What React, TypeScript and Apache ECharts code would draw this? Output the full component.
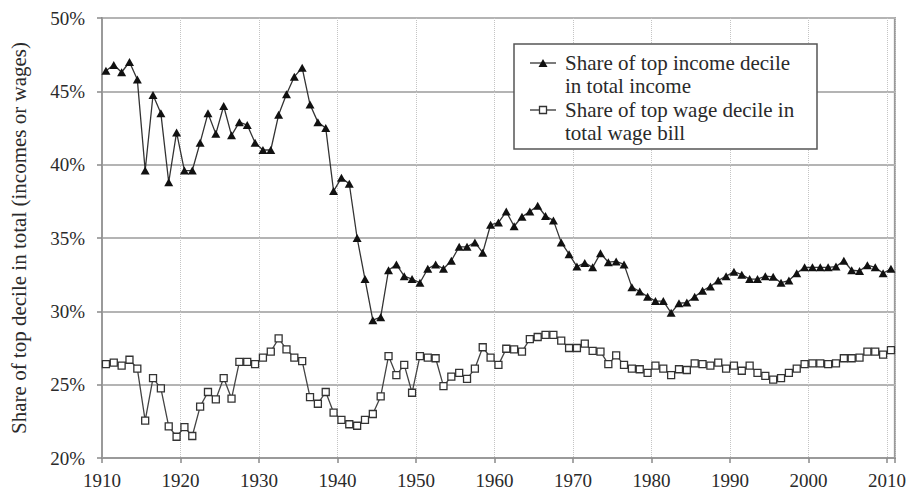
import React, { useEffect, useRef } from "react";
import * as echarts from "echarts";

const years: string[] = Array.from({ length: 101 }, (_, i) => String(1910 + i));

const incomeShare: number[] = [
  46.4, 46.8, 46.3, 47.0, 45.8, 39.6, 44.75, 43.5, 38.8, 42.2,
  39.6, 39.6, 41.5, 43.5, 42.1, 44.0, 42.0, 42.9, 42.7, 41.5,
  41.0, 41.0, 43.4, 44.8, 46.0, 46.6, 44.1, 42.9, 42.5, 38.2,
  39.1, 38.7, 35.0, 32.2, 29.4, 29.6, 32.8, 33.2, 32.4, 32.2,
  31.95, 32.9, 33.2, 32.9, 33.45, 34.4, 34.4, 34.7, 34.0, 35.9,
  36.05, 36.8, 35.8, 36.45, 36.8, 37.2, 36.5, 36.2, 34.7, 33.9,
  33.05, 33.3, 33.0, 33.96, 33.35, 33.4, 33.2, 31.65, 31.35, 31.0,
  30.7, 30.7, 29.9, 30.55, 30.6, 31.0, 31.4, 31.7, 32.1, 32.4,
  32.7, 32.5, 32.2, 32.2, 32.4, 32.35, 31.95, 32.1, 32.6, 33.0,
  33.0, 33.0, 33.0, 33.05, 33.45, 32.8, 32.75, 33.15, 33.0, 32.6,
  32.9,
];

const wageShare: number[] = [
  26.4, 26.5, 26.3, 26.7, 26.1, 22.55, 25.45, 24.75, 22.15, 21.45,
  22.1, 21.5, 23.5, 24.5, 24.0, 25.45, 24.05, 26.55, 26.55, 26.4,
  26.85, 27.25, 28.15, 27.4, 26.85, 26.6, 24.15, 23.7, 24.5, 23.1,
  22.6, 22.3, 22.2, 22.6, 23.0, 24.2, 26.95, 25.65, 26.35, 24.45,
  26.95, 26.85, 26.8, 24.9, 25.55, 25.8, 25.4, 26.1, 27.55, 26.85,
  26.35, 27.45, 27.4, 27.25, 28.1, 28.25, 28.4, 28.4, 28.0, 27.5,
  27.5, 27.8, 27.3, 27.25, 26.4, 27.0, 26.35, 26.1, 26.05, 25.8,
  26.3, 26.1, 25.65, 26.05, 26.0, 26.45, 26.4, 26.3, 26.5, 26.1,
  26.3, 25.95, 26.3, 25.8, 25.6, 25.35, 25.45, 25.8, 26.1, 26.4,
  26.45, 26.45, 26.4, 26.45, 26.8, 26.8, 26.85, 27.25, 27.25, 27.05,
  27.35,
];

const incomeLabel = ["Share of top income decile", "in total income"];
const wageLabel = ["Share of top wage decile in", "total wage bill"];
const yTitle = "Share of top decile in total (incomes or wages)";

const FONT = "'Liberation Serif', 'Times New Roman', serif";

export default function App() {
  const ref = useRef<HTMLDivElement>(null);
  useEffect(() => {
    if (!ref.current) return;
    const chart = echarts.init(ref.current, null, { renderer: "svg" });
    const textColor = "#2a2a2a";
    const lx = 530;
    const Z = 100;
    chart.setOption({
      animation: false,
      backgroundColor: "#ffffff",
      grid: {
        left: 101,
        right: 11,
        top: 18,
        bottom: 32,
        show: true,
        borderColor: "#9a9a9a",
        borderWidth: 2,
        backgroundColor: "transparent",
      },
      xAxis: [
        {
          type: "category",
          data: years,
          boundaryGap: true,
          show: false,
        },
        {
          type: "value",
          min: 1910,
          max: 2011,
          interval: 10,
          position: "bottom",
          axisLine: { show: true, lineStyle: { color: "#9a9a9a", width: 2 } },
          axisTick: { show: true, length: 5, lineStyle: { color: "#8a8a8a", width: 1.5 } },
          axisLabel: {
            color: textColor,
            fontFamily: FONT,
            fontSize: 19,
            margin: 13,
            formatter: (v: number) => (v % 10 === 0 ? String(v) : ""),
          },
          splitLine: { show: true, lineStyle: { color: "#c4c4c4", type: "dotted", width: 1 } },
        },
      ],
      yAxis: {
        type: "value",
        min: 20,
        max: 50,
        interval: 5,
        name: yTitle,
        nameLocation: "middle",
        nameGap: 73,
        nameRotate: 90,
        nameTextStyle: { color: textColor, fontFamily: FONT, fontSize: 21 },
        axisLine: { show: true, lineStyle: { color: "#9a9a9a", width: 2 } },
        axisTick: { show: true, length: 5, lineStyle: { color: "#8a8a8a", width: 1.5 } },
        axisLabel: {
          color: textColor,
          fontFamily: FONT,
          fontSize: 19,
          margin: 17,
          formatter: (v: number) => `${v}%`,
        },
        splitLine: { show: true, lineStyle: { color: "#b4b4b4", width: 2 } },
      },
      series: [
        {
          name: incomeLabel.join(" "),
          type: "line",
          xAxisIndex: 0,
          data: incomeShare,
          symbol: "triangle",
          symbolSize: [9, 8],
          showAllSymbol: true,
          itemStyle: { color: "#111111" },
          lineStyle: { color: "#333333", width: 1.3 },
          z: 3,
        },
        {
          name: wageLabel.join(" "),
          type: "line",
          xAxisIndex: 0,
          data: wageShare,
          symbol: "rect",
          symbolSize: 7,
          showAllSymbol: true,
          itemStyle: { color: "#ffffff", borderColor: "#333333", borderWidth: 1.3 },
          lineStyle: { color: "#444444", width: 1.3 },
          z: 3,
        },
      ],
      graphic: [
        {
          type: "rect",
          z: Z,
          shape: { x: 514, y: 44, width: 303, height: 105 },
          style: { fill: "#ffffff", stroke: "#555555", lineWidth: 1.5 },
        },
        {
          type: "line",
          z: Z + 1,
          shape: { x1: lx, y1: 63, x2: lx + 26, y2: 63 },
          style: { stroke: "#333333", lineWidth: 1.3 },
        },
        {
          type: "polygon",
          z: Z + 2,
          shape: { points: [[lx + 13, 59], [lx + 17.5, 67], [lx + 8.5, 67]] },
          style: { fill: "#111111" },
        },
        {
          type: "line",
          z: Z + 1,
          shape: { x1: lx, y1: 110, x2: lx + 26, y2: 110 },
          style: { stroke: "#333333", lineWidth: 1.3 },
        },
        {
          type: "rect",
          z: Z + 2,
          shape: { x: lx + 9.5, y: 106.5, width: 7, height: 7 },
          style: { fill: "#ffffff", stroke: "#333333", lineWidth: 1.3 },
        },
        ...[incomeLabel[0], incomeLabel[1], wageLabel[0], wageLabel[1]].map((t, i) => ({
          type: "text",
          z: Z + 3,
          x: 565,
          y: [63, 86, 110, 133][i],
          style: {
            text: t,
            fill: textColor,
            font: `21px ${FONT}`,
            textAlign: "left",
            textVerticalAlign: "middle",
          },
        })),
      ],
    });
    return () => chart.dispose();
  }, []);
  return (
    <div
      ref={ref}
      style={{ position: "absolute", left: 0, top: 0, width: 909, height: 490 }}
    />
  );
}
